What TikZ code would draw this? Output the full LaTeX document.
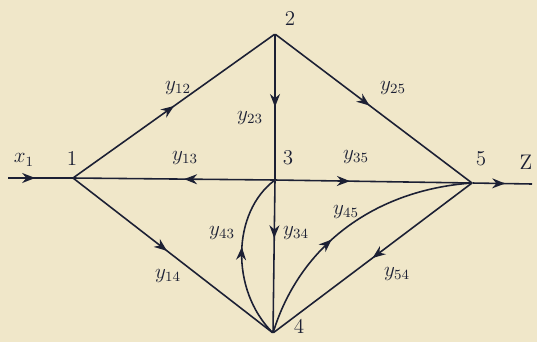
\documentclass[tikz,border=0pt]{standalone}
\usepackage{tikz}
\usetikzlibrary{arrows.meta,decorations.markings}
\definecolor{paper}{RGB}{240,231,201}
\definecolor{ink}{RGB}{28,32,52}

\begin{document}
\begin{tikzpicture}[
    x=0.02cm, y=-0.02cm,
    br/.style={draw=ink, line width=0.9pt},
    mid/.style={postaction={decorate, decoration={markings,
        mark=at position #1 with {\arrow{Stealth[length=2.6mm,width=2mm]}}}}},
    lbl/.style={text=ink, font=\large},
    vtx/.style={inner sep=0pt, minimum size=0pt}
]

\fill[paper] (0,0) rectangle (537,342);
\useasboundingbox (0,0) rectangle (537,342);

% vertices
\node[vtx] (n1) at (73,178) {};
\node[vtx] (n2) at (275,34) {};
\node[vtx] (n3) at (275,180) {};
\node[vtx] (n4) at (273,333) {};
\node[vtx] (n5) at (472,183) {};
\coordinate (xin) at (8,178);
\coordinate (zout) at (532,184);

% vertex labels
\node[lbl] (t1) at (72,158) {1};
\node[lbl] (t2) at (290,18) {2};
\node[lbl] (t3) at (288,158) {3};
\node[lbl] (t4) at (299,326) {4};
\node[lbl] (t5) at (481,159) {5};
\node[lbl] (tx) at (24,160) {$x_1$};
\node[lbl] (tz) at (526,162) {Z};

% branches
\draw[br, mid=0.42] (xin) -- (n1);
\draw[br, mid=0.45] (n3) -- (n1);
\draw[br, mid=0.38] (n3) -- (n5);
\draw[br, mid=0.55] (n5) -- (zout);
\draw[br, mid=0.5] (n1) -- (n2);
\draw[br, mid=0.5] (n2) -- (n3);
\draw[br, mid=0.48] (n2) -- (n5);
\draw[br, mid=0.47] (n1) -- (n4);
\draw[br, mid=0.38] (n3) -- (n4);
\draw[br, mid=0.5] (n5) -- (n4);
\draw[br, mid=0.55] (n4) .. controls (230,290) and (232,212) .. (n3);
\draw[br, mid=0.42] (n4) .. controls (300,245) and (375,190) .. (n5);

% transmittances
\node[lbl] (y12) at (178,88) {$y_{12}$};
\node[lbl] (y23) at (250,118) {$y_{23}$};
\node[lbl] (y25) at (393,88) {$y_{25}$};
\node[lbl] (y13) at (185,158) {$y_{13}$};
\node[lbl] (y35) at (356,157) {$y_{35}$};
\node[lbl] (y43) at (222,233) {$y_{43}$};
\node[lbl] (y34) at (296,233) {$y_{34}$};
\node[lbl] (y45) at (346,212) {$y_{45}$};
\node[lbl] (y54) at (397,274) {$y_{54}$};
\node[lbl] (y14) at (168,276) {$y_{14}$};

\end{tikzpicture}
\end{document}
